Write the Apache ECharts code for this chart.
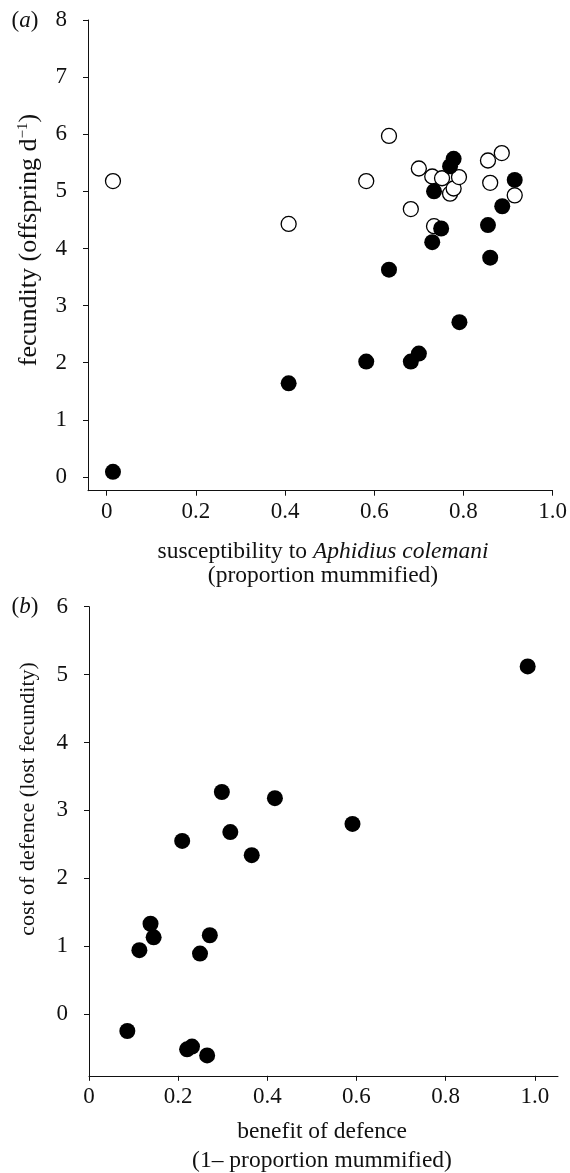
<!DOCTYPE html>
<html>
<head>
<meta charset="utf-8">
<script src="https://cdn.jsdelivr.net/npm/echarts@6/dist/echarts.min.js"></script>
<style>
html,body{margin:0;padding:0;background:#fff;}
#chart{width:570px;height:1173px;}
</style>
</head>
<body>
<div id="chart"></div>
<script>
// Panel (a): susceptibility vs fecundity
const aFilledX = [0.014, 0.408, 0.582, 0.682, 0.700, 0.791, 0.633, 0.860, 0.730, 0.750, 0.855, 0.887, 0.734, 0.915, 0.770, 0.778];
const aFilledY = [0.09, 1.64, 2.02, 2.02, 2.16, 2.71, 3.63, 3.84, 4.11, 4.35, 4.41, 4.74, 5.00, 5.20, 5.44, 5.57];
const aOpenX = [0.014, 0.408, 0.582, 0.633, 0.682, 0.700, 0.730, 0.734, 0.752, 0.770, 0.778, 0.790, 0.855, 0.860, 0.886, 0.915];
const aOpenY = [5.18, 4.43, 5.18, 5.97, 4.69, 5.40, 5.26, 4.39, 5.23, 4.96, 5.05, 5.25, 5.54, 5.15, 5.67, 4.93];
// Panel (b): benefit vs cost of defence
const bX = [0.086, 0.113, 0.138, 0.145, 0.209, 0.249, 0.271, 0.298, 0.317, 0.365, 0.417, 0.591, 0.220, 0.231, 0.265, 0.984];
const bY = [-0.25, 0.94, 1.33, 1.13, 2.55, 0.89, 1.16, 3.27, 2.68, 2.34, 3.18, 2.80, -0.52, -0.48, -0.61, 5.12];
// Tick values
const xTicks = [0, 0.2, 0.4, 0.6, 0.8, 1.0];
const aYTicks = [0, 1, 2, 3, 4, 5, 6, 7, 8];
const bYTicks = [0, 1, 2, 3, 4, 5, 6];

const FONT = '"Liberation Serif", "DejaVu Serif", serif';
const INK = '#111';
const TICK_FS = 23;
const TITLE_FS = 23.5;
const zip = (xs, ys) => xs.map((x, i) => [x, ys[i]]);
const fmtX = v => (Math.abs(v) < 1e-9 ? '0' : v.toFixed(1));

function xAxisCfg(gi, min, max) {
  return {
    type: 'value', gridIndex: gi, min, max,
    axisLine: { show: true, onZero: false, lineStyle: { color: INK, width: 1 } },
    axisTick: { show: true, length: 5, customValues: xTicks, lineStyle: { color: INK, width: 1 } },
    axisLabel: { customValues: xTicks, formatter: fmtX, color: INK, fontFamily: FONT, fontSize: TICK_FS, margin: 10 },
    splitLine: { show: false }
  };
}
function yAxisCfg(gi, min, max, ticks) {
  return {
    type: 'value', gridIndex: gi, min, max,
    axisLine: { show: true, onZero: false, lineStyle: { color: INK, width: 1 } },
    axisTick: { show: true, length: 5, customValues: ticks, lineStyle: { color: INK, width: 1 } },
    axisLabel: { customValues: ticks, formatter: v => String(Math.round(v)), color: INK, fontFamily: FONT, fontSize: TICK_FS, margin: 21 },
    splitLine: { show: false }
  };
}

const chart = echarts.init(document.getElementById('chart'), null, { renderer: 'canvas' });
const titleStyle = { fill: INK, fontFamily: FONT, fontSize: TITLE_FS, align: 'center', verticalAlign: 'middle' };

chart.setOption({
  backgroundColor: '#fff',
  animation: false,
  grid: [
    { left: 88, top: 20, width: 469, height: 470.7 },
    { left: 89, top: 606.7, width: 469, height: 469.1 }
  ],
  xAxis: [xAxisCfg(0, -0.042, 1.0), xAxisCfg(1, 0, 1.052)],
  yAxis: [yAxisCfg(0, -0.24, 8, aYTicks), yAxisCfg(1, -0.91, 6, bYTicks)],
  series: [
    { type: 'scatter', xAxisIndex: 0, yAxisIndex: 0, data: zip(aOpenX, aOpenY), symbol: 'circle', symbolSize: 15,
      itemStyle: { color: '#fff', borderColor: '#000', borderWidth: 1.3, opacity: 1 }, z: 2 },
    { type: 'scatter', xAxisIndex: 0, yAxisIndex: 0, data: zip(aFilledX, aFilledY), symbol: 'circle', symbolSize: 16,
      itemStyle: { color: '#000', opacity: 1 }, z: 3 },
    { type: 'scatter', xAxisIndex: 1, yAxisIndex: 1, data: zip(bX, bY), symbol: 'circle', symbolSize: 16,
      itemStyle: { color: '#000', opacity: 1 }, z: 3 }
  ],
  graphic: [
    { type: 'text', x: 25, y: 21, style: Object.assign({}, titleStyle, { text: '({a|a})', fontSize: 23,
        rich: { a: { fontStyle: 'italic', fontFamily: FONT, fontSize: 23, fill: INK } } }) },
    { type: 'text', x: 25, y: 607, style: Object.assign({}, titleStyle, { text: '({b|b})', fontSize: 23,
        rich: { b: { fontStyle: 'italic', fontFamily: FONT, fontSize: 23, fill: INK } } }) },
    { type: 'text', x: 29, y: 240, rotation: Math.PI / 2, style: Object.assign({}, titleStyle, {
        text: 'fecundity (offspring d{s|−1})', fontSize: 26,
        rich: { s: { fontSize: 15, fontFamily: FONT, fill: INK, verticalAlign: 'top', padding: [0, 0, 11, 0] } } }) },
    { type: 'text', x: 323, y: 552, style: Object.assign({}, titleStyle, {
        text: 'susceptibility to {i|Aphidius colemani}',
        rich: { i: { fontStyle: 'italic', fontFamily: FONT, fontSize: TITLE_FS, fill: INK } } }) },
    { type: 'text', x: 323, y: 576, style: Object.assign({}, titleStyle, { text: '(proportion mummified)' }) },
    { type: 'text', x: 28, y: 799, rotation: Math.PI / 2, style: Object.assign({}, titleStyle, { text: 'cost of defence (lost fecundity)', fontSize: 22 }) },
    { type: 'text', x: 322, y: 1132, style: Object.assign({}, titleStyle, { text: 'benefit of defence' }) },
    { type: 'text', x: 322, y: 1161, style: Object.assign({}, titleStyle, { text: '(1– proportion mummified)' }) }
  ]
});
</script>
</body>
</html>
